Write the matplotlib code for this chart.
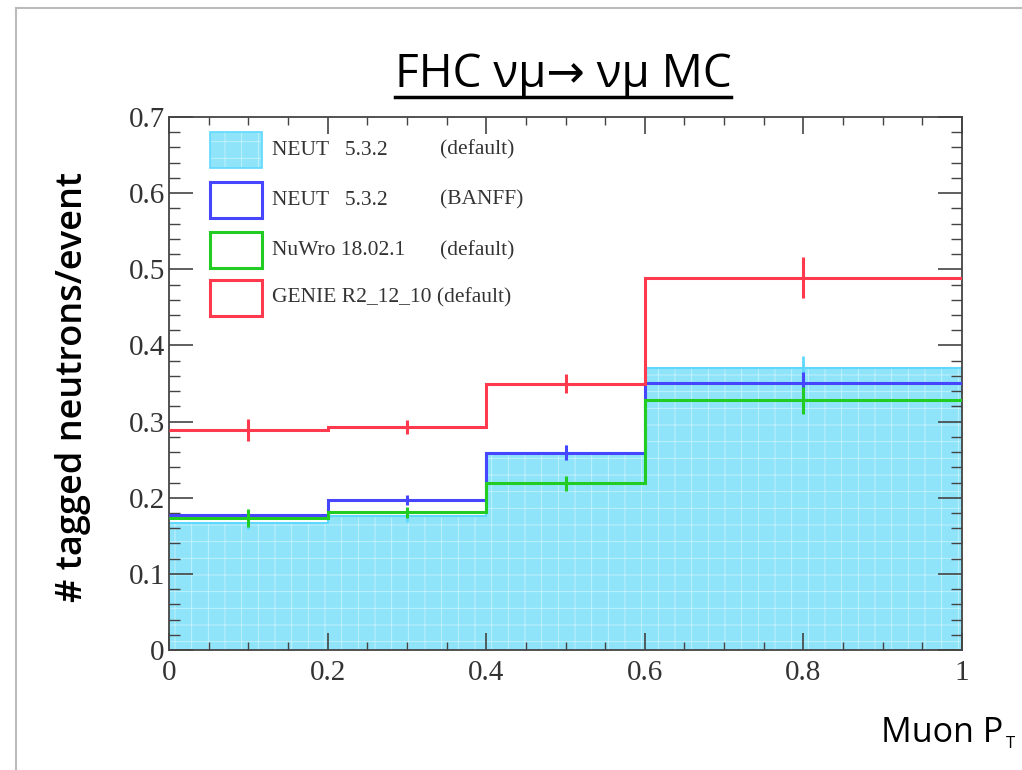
import numpy as np
import matplotlib.pyplot as plt
from matplotlib.patches import Rectangle
from matplotlib.lines import Line2D
from matplotlib.ticker import MultipleLocator

plt.rcParams["hatch.linewidth"] = 0.6

# bins in muon pT
edges = [0.0, 0.2, 0.4, 0.6, 1.0]
centers = [0.1, 0.3, 0.5, 0.8]

neut_default = [0.167, 0.176, 0.259, 0.370]
neut_default_err = [0.008, 0.008, 0.010, 0.016]
neut_banff = [0.178, 0.197, 0.259, 0.351]
neut_banff_err = [0.006, 0.007, 0.010, 0.014]
nuwro = [0.173, 0.181, 0.219, 0.328]
nuwro_err = [0.012, 0.007, 0.010, 0.018]
genie = [0.289, 0.293, 0.350, 0.489]
genie_err = [0.014, 0.009, 0.013, 0.027]

names = ["NEUT   5.3.2", "NEUT   5.3.2", "NuWro 18.02.1", "GENIE R2_12_10"]
tags = ["(default)", "(BANFF)", "(default)", "(default)"]

c_fill = "#8fe4fa"
c_cyan = "#5fd8ff"
c_blue = "#4646ff"
c_green = "#22cc22"
c_red = "#ff3a4e"
sans = ["Open Sans", "DejaVu Sans"]

fig = plt.figure(figsize=(10.22, 7.7), dpi=100)
ax = fig.add_axes([0.1654, 0.1558, 0.7759, 0.6922])

widths = np.diff(edges)
ax.bar(edges[:-1], neut_default, width=widths, align="edge", color=c_fill,
       edgecolor=(1, 1, 1, 0.5), linewidth=0, hatch="+", zorder=1)
ax.stairs(neut_default, edges, baseline=None, color=c_cyan, lw=1.5, zorder=2)
ax.errorbar(centers, neut_default, yerr=neut_default_err, fmt="none",
            ecolor=c_cyan, elinewidth=2, zorder=2)

series = [(neut_banff, neut_banff_err, c_blue),
          (nuwro, nuwro_err, c_green),
          (genie, genie_err, c_red)]
for vals, errs, col in series:
    ax.stairs(vals, edges, baseline=None, color=col, lw=2.2, zorder=3)
    ax.errorbar(centers, vals, yerr=errs, fmt="none", ecolor=col,
                elinewidth=2.2, zorder=3)

ax.set_xlim(0, 1)
ax.set_ylim(0, 0.7)
ax.xaxis.set_major_locator(MultipleLocator(0.2))
ax.xaxis.set_minor_locator(MultipleLocator(0.05))
ax.yaxis.set_major_locator(MultipleLocator(0.1))
ax.yaxis.set_minor_locator(MultipleLocator(0.02))


def fmt(v, pos):
    if abs(v) < 1e-9:
        return "0"
    if abs(v - 1) < 1e-9:
        return "1"
    return f"{v:.1f}"


ax.xaxis.set_major_formatter(plt.FuncFormatter(fmt))
ax.yaxis.set_major_formatter(plt.FuncFormatter(fmt))

for s in ax.spines.values():
    s.set_color("#444444")
    s.set_linewidth(1.3)

ax.tick_params(axis="both", which="both", direction="in", top=True, right=True,
               colors="#444444", labelcolor="#333333", labelsize=21,
               labelfontfamily="Liberation Serif")
ax.tick_params(axis="x", which="major", length=12, width=1.2, pad=7)
ax.tick_params(axis="x", which="minor", length=6, width=1.0)
ax.tick_params(axis="y", which="major", length=17, width=1.2, pad=3)
ax.tick_params(axis="y", which="minor", length=8, width=1.0)

# legend, drawn by hand like ROOT's TLegend
leg_fill = [c_fill, None, None, None]
leg_edge = [c_cyan, c_blue, c_green, c_red]
ys = [0.938, 0.844, 0.750, 0.660]
for i in range(4):
    y = ys[i]
    if leg_fill[i]:
        ax.add_patch(Rectangle((0.052, y - 0.034), 0.065, 0.068, transform=ax.transAxes,
                               facecolor=leg_fill[i], edgecolor=(1, 1, 1, 0.5),
                               hatch="+", lw=0, zorder=5))
        ax.add_patch(Rectangle((0.052, y - 0.034), 0.065, 0.068, transform=ax.transAxes,
                               facecolor="none", edgecolor=leg_edge[i], lw=1.2, zorder=5))
    else:
        ax.add_patch(Rectangle((0.052, y - 0.034), 0.065, 0.068, transform=ax.transAxes,
                               facecolor="white", edgecolor=leg_edge[i], lw=2.2, zorder=5))
    if len(names[i]) > 13:
        ax.text(0.130, y, names[i] + " " + tags[i], transform=ax.transAxes,
                va="center", ha="left", fontsize=15.5, family="Liberation Serif", color="#333333")
    else:
        ax.text(0.130, y, names[i], transform=ax.transAxes,
                va="center", ha="left", fontsize=15.5, family="Liberation Serif", color="#333333")
        ax.text(0.342, y, tags[i], transform=ax.transAxes,
                va="center", ha="left", fontsize=15.5, family="Liberation Serif", color="#333333")

# title with underline
title = fig.text(0.551, 0.903, "FHC \u03bd\u03bc\u2192 \u03bd\u03bc MC", ha="center", va="center",
                 fontsize=33, family=sans, color="black")
fig.canvas.draw()
bb = title.get_window_extent().transformed(fig.transFigure.inverted())
fig.add_artist(Line2D([bb.x0, bb.x1], [0.874, 0.874], transform=fig.transFigure,
                      color="black", lw=2.5))

fig.text(0.071, 0.497, "# tagged neutrons/event", rotation=90, ha="center", va="center",
         fontsize=26, family=sans, weight="semibold", color="black")
fig.text(0.862, 0.048, "Muon P", ha="left", va="center", fontsize=24.5,
         family=sans, color="black")
fig.text(0.984, 0.034, "T", ha="left", va="center", fontsize=12,
         family=sans, color="black")

# slide frame
fig.add_artist(Line2D([0.016, 0.016], [0.0, 0.99], transform=fig.transFigure,
                      color="#bbbbbb", lw=1.5))
fig.add_artist(Line2D([0.016, 1.0], [0.99, 0.99], transform=fig.transFigure,
                      color="#bbbbbb", lw=1.5))

fig.savefig("out.png", dpi=100)
